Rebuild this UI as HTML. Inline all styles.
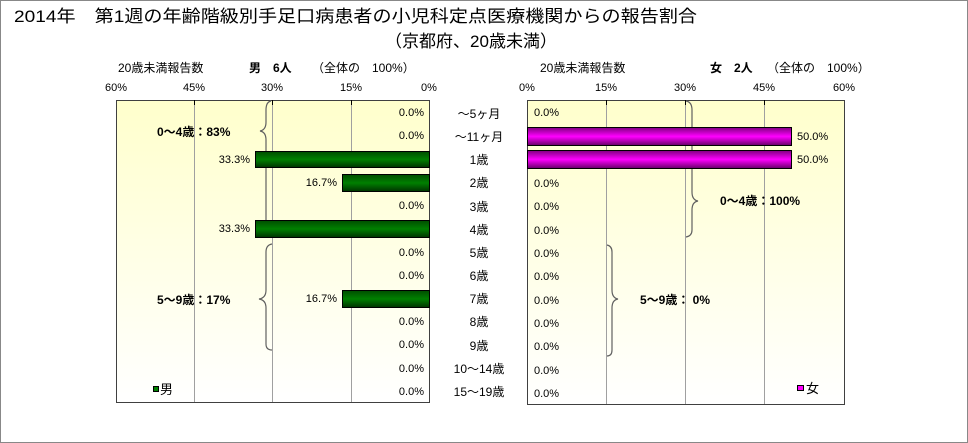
<!DOCTYPE html>
<html><head><meta charset="utf-8"><style>
html,body{margin:0;padding:0;background:#fff}
svg{display:block}
text{font-family:"Liberation Sans","Noto Sans CJK JP",sans-serif;fill:#000}
</style></head><body>
<svg width="968" height="443" viewBox="0 0 968 443" xmlns="http://www.w3.org/2000/svg">
<defs>
<linearGradient id="bg" x1="0" y1="0" x2="0" y2="1"><stop offset="0" stop-color="#ffffcc"/><stop offset="1" stop-color="#ffffff"/></linearGradient>
<linearGradient id="gr" x1="0" y1="0" x2="0" y2="1"><stop offset="0" stop-color="#004d00"/><stop offset="0.5" stop-color="#008000"/><stop offset="1" stop-color="#003300"/></linearGradient>
<linearGradient id="mg" x1="0" y1="0" x2="0" y2="1"><stop offset="0" stop-color="#800080"/><stop offset="0.5" stop-color="#ff00ff"/><stop offset="1" stop-color="#660066"/></linearGradient>
</defs>
<rect x="0.5" y="0.5" width="967" height="442" fill="#fff" stroke="#888"/>
<text x="14" y="22" font-size="17" textLength="683" lengthAdjust="spacingAndGlyphs">2014年　第1週の年齢階級別手足口病患者の小児科定点医療機関からの報告割合</text>
<text x="385" y="47" font-size="17" textLength="172" lengthAdjust="spacingAndGlyphs">（京都府、20歳未満）</text>

<!-- left header -->
<text x="118" y="72" font-size="12">20歳未満報告数</text>
<text x="249" y="72" font-size="12" font-weight="bold">男　6人</text>
<text x="312" y="72" font-size="12">（全体の　100%）</text>
<g font-size="11" text-anchor="middle">
<text x="116" y="91">60%</text><text x="194" y="91">45%</text><text x="272" y="91">30%</text><text x="351" y="91">15%</text><text x="429" y="91">0%</text>
</g>
<rect x="116.5" y="100.5" width="313" height="302" fill="url(#bg)" stroke="#404040"/>
<g stroke="#a0a0a0"><line x1="194.5" y1="101" x2="194.5" y2="402"/><line x1="272.5" y1="101" x2="272.5" y2="402"/><line x1="351.5" y1="101" x2="351.5" y2="402"/></g>
<g stroke="#000"><line x1="194.5" y1="100" x2="194.5" y2="105"/><line x1="272.5" y1="100" x2="272.5" y2="105"/><line x1="351.5" y1="100" x2="351.5" y2="105"/></g>
<!-- left braces -->
<path d="M271 101 Q266 102 266 110 L266 122 Q266 130 260 131 Q266 132 266 140 L266 236" fill="none" stroke="#606060" stroke-width="1.2"/>
<path d="M272 244 Q266 245 266 252 L266 290 Q266 298 259 299 Q266 300 266 308 L266 344 Q266 350 272 350" fill="none" stroke="#606060" stroke-width="1.2"/>
<rect x="255.5" y="151.5" width="174" height="16" fill="url(#gr)" stroke="#000"/>
<rect x="342.5" y="174.5" width="87" height="17" fill="url(#gr)" stroke="#000"/>
<rect x="255.5" y="220.5" width="174" height="17" fill="url(#gr)" stroke="#000"/>
<rect x="342.5" y="290.5" width="87" height="17" fill="url(#gr)" stroke="#000"/>
<g font-size="11" text-anchor="end">
<text x="424" y="116">0.0%</text><text x="424" y="139">0.0%</text><text x="250" y="163">33.3%</text><text x="337" y="186">16.7%</text>
<text x="424" y="209">0.0%</text><text x="250" y="232">33.3%</text><text x="424" y="256">0.0%</text><text x="424" y="279">0.0%</text>
<text x="337" y="302">16.7%</text><text x="424" y="325">0.0%</text><text x="424" y="348">0.0%</text><text x="424" y="372">0.0%</text><text x="424" y="395">0.0%</text>
</g>
<text x="157" y="136" font-size="12" font-weight="bold">0～4歳：83%</text>
<text x="157" y="304" font-size="12" font-weight="bold">5～9歳：17%</text>
<rect x="153.5" y="386.5" width="5" height="5" fill="#008000" stroke="#000"/>
<text x="160" y="394" font-size="13">男</text>

<!-- center labels -->
<g font-size="12" text-anchor="middle">
<text x="479" y="118">～5ヶ月</text><text x="479" y="141">～11ヶ月</text><text x="479" y="164">1歳</text><text x="479" y="187">2歳</text>
<text x="479" y="211">3歳</text><text x="479" y="234">4歳</text><text x="479" y="257">5歳</text><text x="479" y="280">6歳</text>
<text x="479" y="303">7歳</text><text x="479" y="326">8歳</text><text x="479" y="350">9歳</text><text x="479" y="373">10～14歳</text><text x="479" y="396">15～19歳</text>
</g>

<!-- right header -->
<text x="540" y="72" font-size="12">20歳未満報告数</text>
<text x="710" y="72" font-size="12" font-weight="bold">女　2人</text>
<text x="767" y="72" font-size="12">（全体の　100%）</text>
<g font-size="11" text-anchor="middle">
<text x="527" y="91">0%</text><text x="606" y="91">15%</text><text x="685" y="91">30%</text><text x="764" y="91">45%</text><text x="844" y="91">60%</text>
</g>
<rect x="527.5" y="100.5" width="317" height="304" fill="url(#bg)" stroke="#404040"/>
<g stroke="#a0a0a0"><line x1="606.5" y1="101" x2="606.5" y2="404"/><line x1="685.5" y1="101" x2="685.5" y2="404"/><line x1="764.5" y1="101" x2="764.5" y2="404"/></g>
<g stroke="#000"><line x1="606.5" y1="100" x2="606.5" y2="105"/><line x1="685.5" y1="100" x2="685.5" y2="105"/><line x1="764.5" y1="100" x2="764.5" y2="105"/></g>
<path d="M686 101 Q692 102 692 110 L692 192 Q692 200 698 201 Q692 202 692 210 L692 230 Q692 236 686 237" fill="none" stroke="#606060" stroke-width="1.2"/>
<path d="M607 245 Q612 246 612 252 L612 290 Q612 298 618 299 Q612 300 612 308 L612 350 Q612 356 607 356" fill="none" stroke="#606060" stroke-width="1.2"/>
<rect x="527.5" y="127.5" width="264" height="18" fill="url(#mg)" stroke="#000"/>
<rect x="527.5" y="150.5" width="264" height="18" fill="url(#mg)" stroke="#000"/>
<g font-size="11">
<text x="534" y="116">0.0%</text><text x="797" y="140">50.0%</text><text x="797" y="163">50.0%</text>
<text x="534" y="187">0.0%</text><text x="534" y="210">0.0%</text><text x="534" y="234">0.0%</text><text x="534" y="257">0.0%</text>
<text x="534" y="280">0.0%</text><text x="534" y="304">0.0%</text><text x="534" y="327">0.0%</text><text x="534" y="350">0.0%</text>
<text x="534" y="374">0.0%</text><text x="534" y="397">0.0%</text>
</g>
<text x="720" y="205" font-size="12" font-weight="bold">0～4歳：100%</text>
<text x="640" y="304" font-size="12" font-weight="bold">5～9歳：  0%</text>
<rect x="797.5" y="385.5" width="6" height="5" fill="#ff00ff" stroke="#000"/>
<text x="806" y="393" font-size="13">女</text>
</svg>
</body></html>
